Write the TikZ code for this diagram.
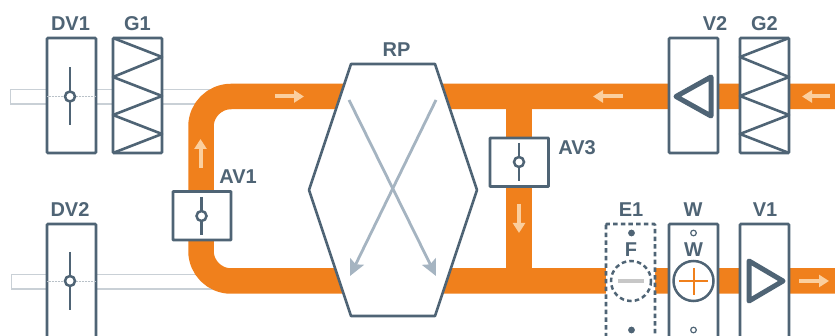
\documentclass[tikz,border=0pt]{standalone}
\usepackage{fontspec}
\setmainfont{Liberation Sans}
\usetikzlibrary{arrows.meta}
\definecolor{slate}{HTML}{4F6475}
\definecolor{duct}{HTML}{F0801C}
\definecolor{pale}{HTML}{FBCF9E}
\definecolor{greyduct}{HTML}{C9D0D6}
\definecolor{xarrow}{HTML}{A5B4C1}
\tikzset{
  x=1pt,y=-1pt,
  lbl/.style={font=\fontsize{20}{22}\selectfont\bfseries,text=slate,inner sep=0pt},
  box/.style={draw=slate,line width=2.6pt,fill=white,rounded corners=1pt},
  stroke/.style={draw=slate,line width=2.6pt,line join=round},
  flow/.style={draw=duct,line width=25.5pt},
  airarrow/.style={draw=pale,line width=4pt,-{Triangle[length=10pt,width=12pt]}},
  xflow/.style={draw=xarrow,line width=2.8pt,-{Stealth[length=16pt,width=15pt,inset=3pt]}},
  spindle/.style={draw=slate,line width=2.5pt},
  guide/.style={draw=slate!40,line width=0.5pt,densely dotted},
  fan/.style={draw=slate,line width=5pt,line join=round,line cap=round},
  dash1/.style={dash pattern=on 4.5pt off 3.2pt},
}
\begin{document}
\begin{tikzpicture}
\useasboundingbox (0,0) rectangle (835,336);
\fill[white] (0,0) rectangle (835,336);
\begin{scope}
\clip (0,0) rectangle (835,336);
% grey outdoor ducts
\draw[greyduct,line width=1.2pt] (230,89.5) -- (10.5,89.5) -- (10.5,104) -- (230,104);
\draw[greyduct,line width=1.2pt] (230,274.5) -- (11.5,274.5) -- (11.5,289) -- (230,289);
% orange ducts
\draw[flow,rounded corners=30pt] (835,96.5) -- (201,96.5) -- (201,281) -- (835,281);
\draw[flow] (519,96.5) -- (519,281);
% flow arrows
\coordinate (a1s) at (275,96.5); \coordinate (a1e) at (304,96.5);
\coordinate (a2s) at (623,96.5); \coordinate (a2e) at (593,96.5);
\coordinate (a3s) at (830,96.5); \coordinate (a3e) at (802,96.5);
\coordinate (a4s) at (200.5,168); \coordinate (a4e) at (200.5,139);
\coordinate (a5s) at (519,204); \coordinate (a5e) at (519,233);
\coordinate (a6s) at (799,281); \coordinate (a6e) at (829,281);
\foreach \s/\e in {a1s/a1e,a2s/a2e,a3s/a3e,a4s/a4e,a5s/a5e,a6s/a6e}
  \draw[airarrow] (\s) -- (\e);
% heat exchanger
\node[lbl] (rp) at (396.5,50) {RP};
\draw[stroke,fill=white] (351,64) -- (435,64) -- (477,190) -- (435,316) -- (351,316) -- (309,190) -- cycle;
\coordinate (x1) at (349,100); \coordinate (x2) at (436,276);
\coordinate (x3) at (436,100); \coordinate (x4) at (350,276);
\draw[xflow] (x1) -- (x2);
\draw[xflow] (x3) -- (x4);
% dampers
\foreach \n/\l/\r/\t/\b/\cy in {dv1/47/96/38/153/96.5,dv2/47/96/224/340/281}{
  \draw[box] (\l,\t) rectangle (\r,\b);
  \draw[guide] (\l,\cy) -- (\r,\cy);
  \draw[spindle] (70,\cy-29) -- (70,\cy+29);
  \draw[spindle,fill=white] (70,\cy) circle (5);
}
\node[lbl] at (70.5,24) {DV1};
\node[lbl] at (70,210) {DV2};
% bypass dampers
\draw[box,rounded corners=0.5pt] (173,191.5) rectangle (231,240);
\draw[spindle] (201.5,197) -- (201.5,235);
\draw[spindle,fill=white] (201.5,216) circle (5);
\node[lbl] at (238,176.5) {AV1};
\draw[box,rounded corners=0.5pt] (490,138) rectangle (548.5,186.5);
\draw[spindle] (519,143) -- (519,181);
\draw[spindle,fill=white] (519,162) circle (5);
\node[lbl] at (577,148) {AV3};
% filters
\draw[box] (113,38) rectangle (162,153);
\draw[stroke] (113,38) -- (162,57) -- (113,77) -- (162,96) -- (113,115) -- (162,134) -- (113,153);
\node[lbl] at (137.5,24) {G1};
\draw[box] (740,38) rectangle (789,153);
\draw[stroke] (789,38) -- (740,57) -- (789,77) -- (740,96) -- (789,115) -- (740,134) -- (789,153);
\node[lbl] at (764.5,24) {G2};
% fans
\draw[box] (669,38) rectangle (718,153);
\draw[fan] (676,96.5) -- (711,77) -- (711,116) -- cycle;
\node[lbl] at (715,24) {V2};
\draw[box] (740,224) rectangle (789,340);
\draw[fan] (749,261) -- (783,281) -- (749,301) -- cycle;
\node[lbl] at (765,210) {V1};
% E1
\draw[box,dash1] (606,224) rectangle (655,340);
\node[lbl] at (631,209.5) {E1};
\fill[slate] (631.5,233) circle (3.4);
\fill[slate] (631.5,330) circle (3.4);
\node[lbl] at (631,250) {F};
\draw[spindle,dash1,fill=white] (631,281) circle (20);
\draw[draw=black!22,line width=4pt] (618,281) -- (644,281);
% W
\draw[box] (669,224) rectangle (718,340);
\node[lbl] at (693,209.5) {W};
\draw[draw=slate,line width=1.2pt,fill=white] (693.5,233) circle (2.8);
\draw[draw=slate,line width=1.2pt,fill=white] (693.5,330) circle (2.8);
\node[lbl] at (693.5,250) {W};
\draw[spindle,fill=white] (693.5,281) circle (20);
\draw[duct,line width=2pt] (679,281) -- (708,281) (693.5,268) -- (693.5,295);
\end{scope}
\end{tikzpicture}
\end{document}
